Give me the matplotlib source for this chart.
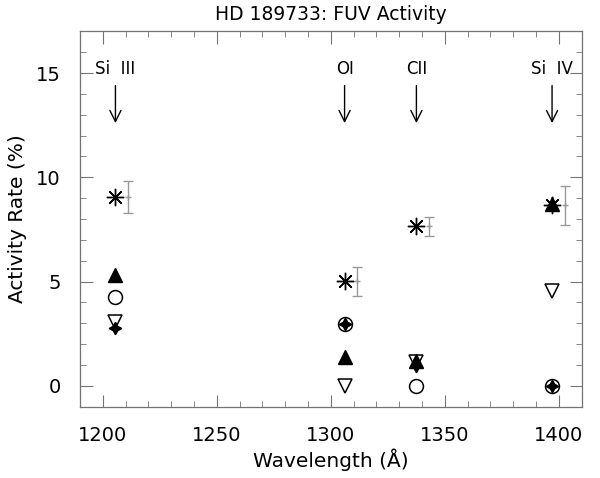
import matplotlib
matplotlib.use("Agg")
import matplotlib.pyplot as plt

# line positions (Angstrom) as placed on the plot
lines = ["Si  III", "OI", "CII", "Si  IV"]
wave = [1205.5, 1306.0, 1337.5, 1397.0]

# activity rates (%)
rate_total = [9.05, 5.02, 7.65, 8.65]
rate_err = [0.77, 0.70, 0.45, 0.94]
rate_up = [5.34, 1.37, 1.2, 8.7]
rate_circle = [4.24, 2.95, 0.0, 0.0]
rate_down = [3.08, 0.0, 1.15, 4.56]
rate_star = [2.76, 2.95, 0.95, 0.0]

err_offset = 5.5

plt.rcParams['font.family'] = ['DejaVu Sans']

fig = plt.figure(figsize=(6.0, 4.78), dpi=100)
ax = fig.add_axes([0.1335, 0.149, 0.836, 0.7855])

ex = [w + err_offset for w in wave]
ax.errorbar(ex, rate_total, yerr=rate_err, fmt='+', color='0.6', ms=4,
            elinewidth=1.0, capsize=3.5, capthick=1.0, zorder=2)

ax.plot(wave, rate_up, ls='none', marker='^', ms=10, color='k', zorder=3)
ax.plot(wave, rate_circle, ls='none', marker='o', ms=10, mfc='none',
        mec='k', mew=1.1, zorder=3)
ax.plot(wave, rate_down, ls='none', marker='v', ms=10, mfc='none',
        mec='k', mew=1.1, zorder=3)
ax.plot(wave, rate_star, ls='none', marker=(4, 1, 0), ms=9, color='k',
        zorder=4)
ax.plot(wave, rate_total, ls='none', marker=(8, 2, 0), ms=12.5, mec='k',
        mew=1.0, zorder=5)

for name, w in zip(lines, wave):
    ax.text(w, 15.2, name, ha='center', va='center', fontsize=12)
    ax.annotate("", xy=(w, 12.6), xytext=(w, 14.4),
                arrowprops=dict(arrowstyle='->', color='k', lw=1.0,
                                mutation_scale=20, shrinkA=0, shrinkB=0))

ax.set_xlim(1190, 1410)
ax.set_ylim(-1, 17)
ax.set_xticks([1200, 1250, 1300, 1350, 1400])
ax.set_xticks(range(1190, 1411, 10), minor=True)
ax.set_yticks([0, 5, 10, 15])
ax.set_yticks(range(-1, 18), minor=True)

for s in ax.spines.values():
    s.set_color('0.45')
    s.set_linewidth(0.9)
ax.tick_params(which='both', direction='in', top=True, right=True,
               color='0.45', labelsize=14)
ax.tick_params(axis='x', pad=14)
ax.tick_params(axis='y', pad=14)
ax.tick_params(which='major', length=9)
ax.tick_params(which='minor', length=4.5)

ax.set_xlabel("Wavelength (Å)", fontsize=14.5, labelpad=2)
ax.set_ylabel("Activity Rate (%)", fontsize=14.5, labelpad=6)
ax.set_title("HD 189733: FUV Activity", fontsize=13.5, pad=8)

fig.savefig("out.png", dpi=100)
